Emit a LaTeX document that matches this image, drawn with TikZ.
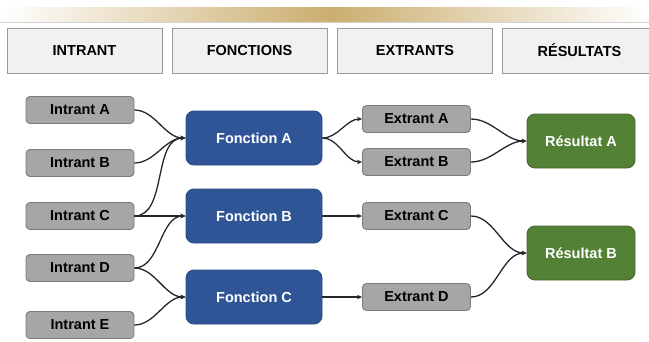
\documentclass[tikz,border=0pt]{standalone}
\usepackage{fontspec}
\setmainfont{Liberation Sans}
\usetikzlibrary{arrows.meta,shadows}
\definecolor{gold}{HTML}{CBAE6F}
\definecolor{boxgray}{HTML}{A6A6A6}
\definecolor{boxgrayline}{HTML}{7B7B7B}
\definecolor{fnblue}{HTML}{2F5597}
\definecolor{fnblueline}{HTML}{264A86}
\definecolor{resgreen}{HTML}{538135}
\definecolor{resgreenline}{HTML}{40692A}
\definecolor{headfill}{HTML}{F1F1F1}
\definecolor{headline}{HTML}{9A9A9A}
\tikzset{
  txt/.style={font=\fontsize{14.5pt}{16pt}\selectfont\bfseries, inner sep=0pt},
  header/.style={txt, draw=headline, fill=headfill, line width=1pt,
    minimum width=155pt, minimum height=45pt,
    drop shadow={shadow xshift=0.8pt, shadow yshift=-0.8pt, opacity=0.35}},
  graybox/.style={txt, draw=boxgrayline, fill=boxgray, rounded corners=4pt,
    line width=0.9pt, minimum width=108pt, minimum height=27pt},
  fnbox/.style={txt, text=white, draw=fnblueline, fill=fnblue, rounded corners=8pt,
    line width=0.9pt, minimum width=136pt, minimum height=54pt},
  resbox/.style={txt, text=white, draw=resgreenline, fill=resgreen, rounded corners=8pt,
    line width=0.9pt, minimum width=108pt, minimum height=54pt},
  link/.style={line width=1.3pt, black!85, -{Stealth[length=5pt,width=4.5pt]}},
  curve/.style={link, out=0, in=180, looseness=0.9}
}
\begin{document}
\begin{tikzpicture}[x=1pt,y=-1pt]
  \useasboundingbox (0,0) rectangle (649,341);
  % gold band on top, fading out at both ends
  \shade[left color=white, right color=gold] (0,7) rectangle (330,21);
  \shade[left color=gold, right color=white] (330,7) rectangle (649,21);
  \draw[gray!35, line width=0.8pt] (0,22) -- (649,22);

  % column headers
  \node[header] (h1) at (84.5,50.5) {INTRANT};
  \node[header] (h2) at (249.5,50.5) {FONCTIONS};
  \node[header] (h3) at (415,50.5) {EXTRANTS};
  \node[header] (h4) at (579.5,50.5) {RÉSULTATS};

  % inputs
  \node[graybox] (ia) at (80,110) {Intrant A};
  \node[graybox] (ib) at (80,163) {Intrant B};
  \node[graybox] (ic) at (80,216) {Intrant C};
  \node[graybox] (id) at (80,268) {Intrant D};
  \node[graybox] (ie) at (80,325) {Intrant E};

  % functions
  \node[fnbox] (fa) at (254,138) {Fonction A};
  \node[fnbox] (fb) at (254,216) {Fonction B};
  \node[fnbox] (fc) at (254,297) {Fonction C};

  % outputs
  \node[graybox] (ea) at (416.5,119) {Extrant A};
  \node[graybox] (eb) at (416.5,162) {Extrant B};
  \node[graybox] (ec) at (416.5,216) {Extrant C};
  \node[graybox] (ed) at (416.5,297) {Extrant D};

  % results
  \node[resbox] (ra) at (581,141) {Résultat A};
  \node[resbox] (rb) at (581,253) {Résultat B};

  % inputs to functions
  \draw[curve] (ia.east) to (fa.west);
  \draw[curve] (ib.east) to (fa.west);
  \draw[curve] (ic.east) to (fa.west);
  \draw[link] (ic.east) -- (fb.west);
  \draw[curve] (id.east) to (fb.west);
  \draw[curve] (id.east) to (fc.west);
  \draw[curve] (ie.east) to (fc.west);

  % functions to outputs
  \draw[curve] (fa.east) to (ea.west);
  \draw[curve] (fa.east) to (eb.west);
  \draw[link] (fb.east) -- (ec.west);
  \draw[link] (fc.east) -- (ed.west);

  % outputs to results
  \draw[curve] (ea.east) to (ra.west);
  \draw[curve] (eb.east) to (ra.west);
  \draw[curve] (ec.east) to (rb.west);
  \draw[curve] (ed.east) to (rb.west);
\end{tikzpicture}
\end{document}
